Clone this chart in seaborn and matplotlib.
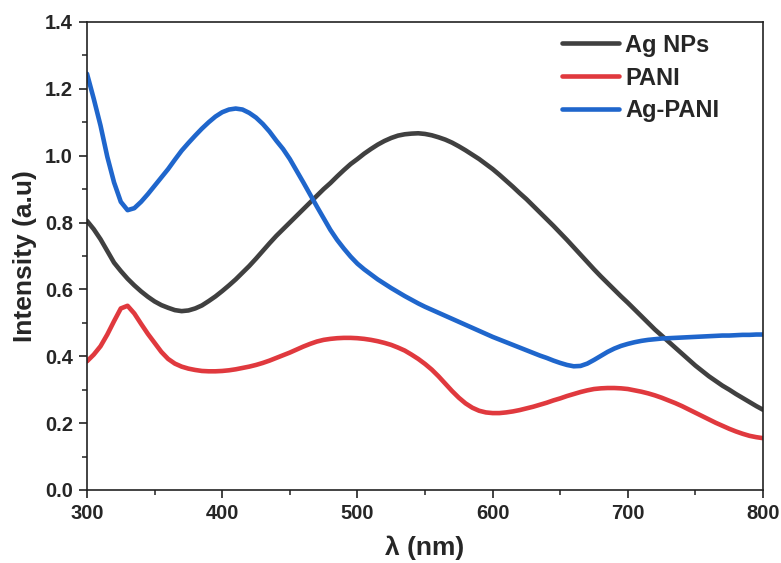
import numpy as np
import pandas as pd
import seaborn as sns
import matplotlib
matplotlib.use("Agg")
import matplotlib.pyplot as plt
from matplotlib.ticker import MultipleLocator, FormatStrFormatter

wavelength = list(range(300, 801, 5))

ag_nps = [0.805, 0.78, 0.75, 0.715, 0.68, 0.655, 0.632, 0.612, 0.594, 0.578,
          0.564, 0.553, 0.545, 0.538, 0.535, 0.537, 0.543, 0.552, 0.565, 0.579,
          0.595, 0.612, 0.63, 0.65, 0.67, 0.692, 0.715, 0.738, 0.76, 0.78,
          0.80, 0.82, 0.84, 0.86, 0.88, 0.90, 0.918, 0.938, 0.957, 0.975,
          0.99, 1.006, 1.02, 1.033, 1.044, 1.053, 1.06, 1.064, 1.066, 1.067,
          1.065, 1.061, 1.055, 1.048, 1.039, 1.028, 1.016, 1.003, 0.99, 0.975,
          0.96, 0.943, 0.925, 0.907, 0.888, 0.87, 0.85, 0.83, 0.81, 0.79,
          0.769, 0.748, 0.726, 0.704, 0.682, 0.66, 0.639, 0.619, 0.599, 0.579,
          0.56, 0.54, 0.52, 0.50, 0.48, 0.462, 0.444, 0.426, 0.408, 0.39,
          0.372, 0.356, 0.34, 0.326, 0.312, 0.30, 0.287, 0.275, 0.263, 0.251,
          0.24]

pani = [0.385, 0.405, 0.43, 0.465, 0.505, 0.543, 0.551, 0.528, 0.497, 0.467,
        0.44, 0.413, 0.392, 0.378, 0.369, 0.363, 0.359, 0.356, 0.355, 0.355,
        0.356, 0.358, 0.361, 0.365, 0.369, 0.374, 0.38, 0.387, 0.395, 0.403,
        0.411, 0.42, 0.429, 0.437, 0.444, 0.449, 0.452, 0.454, 0.455, 0.455,
        0.454, 0.452, 0.449, 0.445, 0.44, 0.434, 0.426, 0.417, 0.405, 0.392,
        0.377, 0.36, 0.34, 0.318, 0.296, 0.276, 0.259, 0.246, 0.237, 0.232,
        0.23, 0.23, 0.232, 0.235, 0.239, 0.244, 0.249, 0.255, 0.261, 0.268,
        0.274, 0.281, 0.287, 0.293, 0.298, 0.302, 0.304, 0.305, 0.305, 0.304,
        0.302, 0.298, 0.294, 0.289, 0.283, 0.276, 0.268, 0.26, 0.251, 0.241,
        0.231, 0.221, 0.211, 0.201, 0.192, 0.183, 0.175, 0.168, 0.162, 0.158,
        0.155]

ag_pani = [1.245, 1.17, 1.09, 0.997, 0.92, 0.862, 0.837, 0.843, 0.862, 0.885,
           0.91, 0.935, 0.96, 0.988, 1.015, 1.038, 1.06, 1.081, 1.10, 1.117,
           1.13, 1.138, 1.141, 1.138, 1.128, 1.114, 1.095, 1.072, 1.045, 1.02,
           0.99, 0.955, 0.92, 0.884, 0.848, 0.813, 0.778, 0.748, 0.722, 0.698,
           0.677, 0.66, 0.645, 0.63, 0.617, 0.604, 0.592, 0.58, 0.569, 0.558,
           0.548, 0.539, 0.53, 0.521, 0.512, 0.503, 0.494, 0.485, 0.476, 0.467,
           0.458, 0.45, 0.442, 0.434, 0.426, 0.418, 0.41, 0.402, 0.395, 0.387,
           0.38, 0.374, 0.37, 0.371, 0.378, 0.389, 0.401, 0.413, 0.423, 0.431,
           0.437, 0.442, 0.446, 0.449, 0.451, 0.453, 0.454, 0.455, 0.456, 0.457,
           0.458, 0.459, 0.46, 0.461, 0.462, 0.462, 0.463, 0.464, 0.464, 0.465,
           0.465]

series_names = ["Ag NPs", "PANI", "Ag-PANI"]
colors = ["#404040", "#e0393e", "#1f66cc"]

df = pd.concat([
    pd.DataFrame({"wl": wavelength, "val": ag_nps, "sample": "Ag NPs"}),
    pd.DataFrame({"wl": wavelength, "val": pani, "sample": "PANI"}),
    pd.DataFrame({"wl": wavelength, "val": ag_pani, "sample": "Ag-PANI"}),
])

sns.set_style("ticks")
plt.rcParams['font.family'] = ['Liberation Sans', 'DejaVu Sans']
plt.rcParams['font.weight'] = 'bold'

fig = plt.figure(figsize=(7.81, 5.63), dpi=100)
ax = fig.add_axes([0.1114, 0.1297, 0.8656, 0.8313])

sns.lineplot(data=df, x="wl", y="val", hue="sample", hue_order=series_names,
             palette=colors, linewidth=3.3, ax=ax,
             solid_joinstyle='round', solid_capstyle='round')

ax.set_xlim(300, 800)
ax.set_ylim(0, 1.4)
ax.xaxis.set_major_locator(MultipleLocator(100))
ax.xaxis.set_minor_locator(MultipleLocator(50))
ax.yaxis.set_major_locator(MultipleLocator(0.2))
ax.yaxis.set_minor_locator(MultipleLocator(0.1))
ax.yaxis.set_major_formatter(FormatStrFormatter('%.1f'))

ax.tick_params(which='major', direction='out', length=6, width=1.2,
               labelsize=14.5, color='#222222', pad=4)
ax.tick_params(which='minor', direction='out', length=3.5, width=1.1, color='#222222')
for lab in ax.get_xticklabels() + ax.get_yticklabels():
    lab.set_fontweight('bold')
for s in ax.spines.values():
    s.set_linewidth(1.2)
    s.set_color('#222222')

ax.set_xlabel("λ (nm)", fontsize=19, fontweight='bold', labelpad=9)
ax.set_ylabel("Intensity (a.u)", fontsize=19, fontweight='bold', labelpad=6)

leg = ax.legend(loc='upper left', frameon=False, fontsize=17,
                handlelength=2.45, handletextpad=0.25, labelspacing=0.42,
                borderaxespad=0.0, borderpad=0.0,
                bbox_to_anchor=(0.702, 0.975))
for t in leg.get_texts():
    t.set_fontweight('bold')
for l in leg.get_lines():
    l.set_linewidth(3.3)

fig.savefig("out.png", dpi=100)
